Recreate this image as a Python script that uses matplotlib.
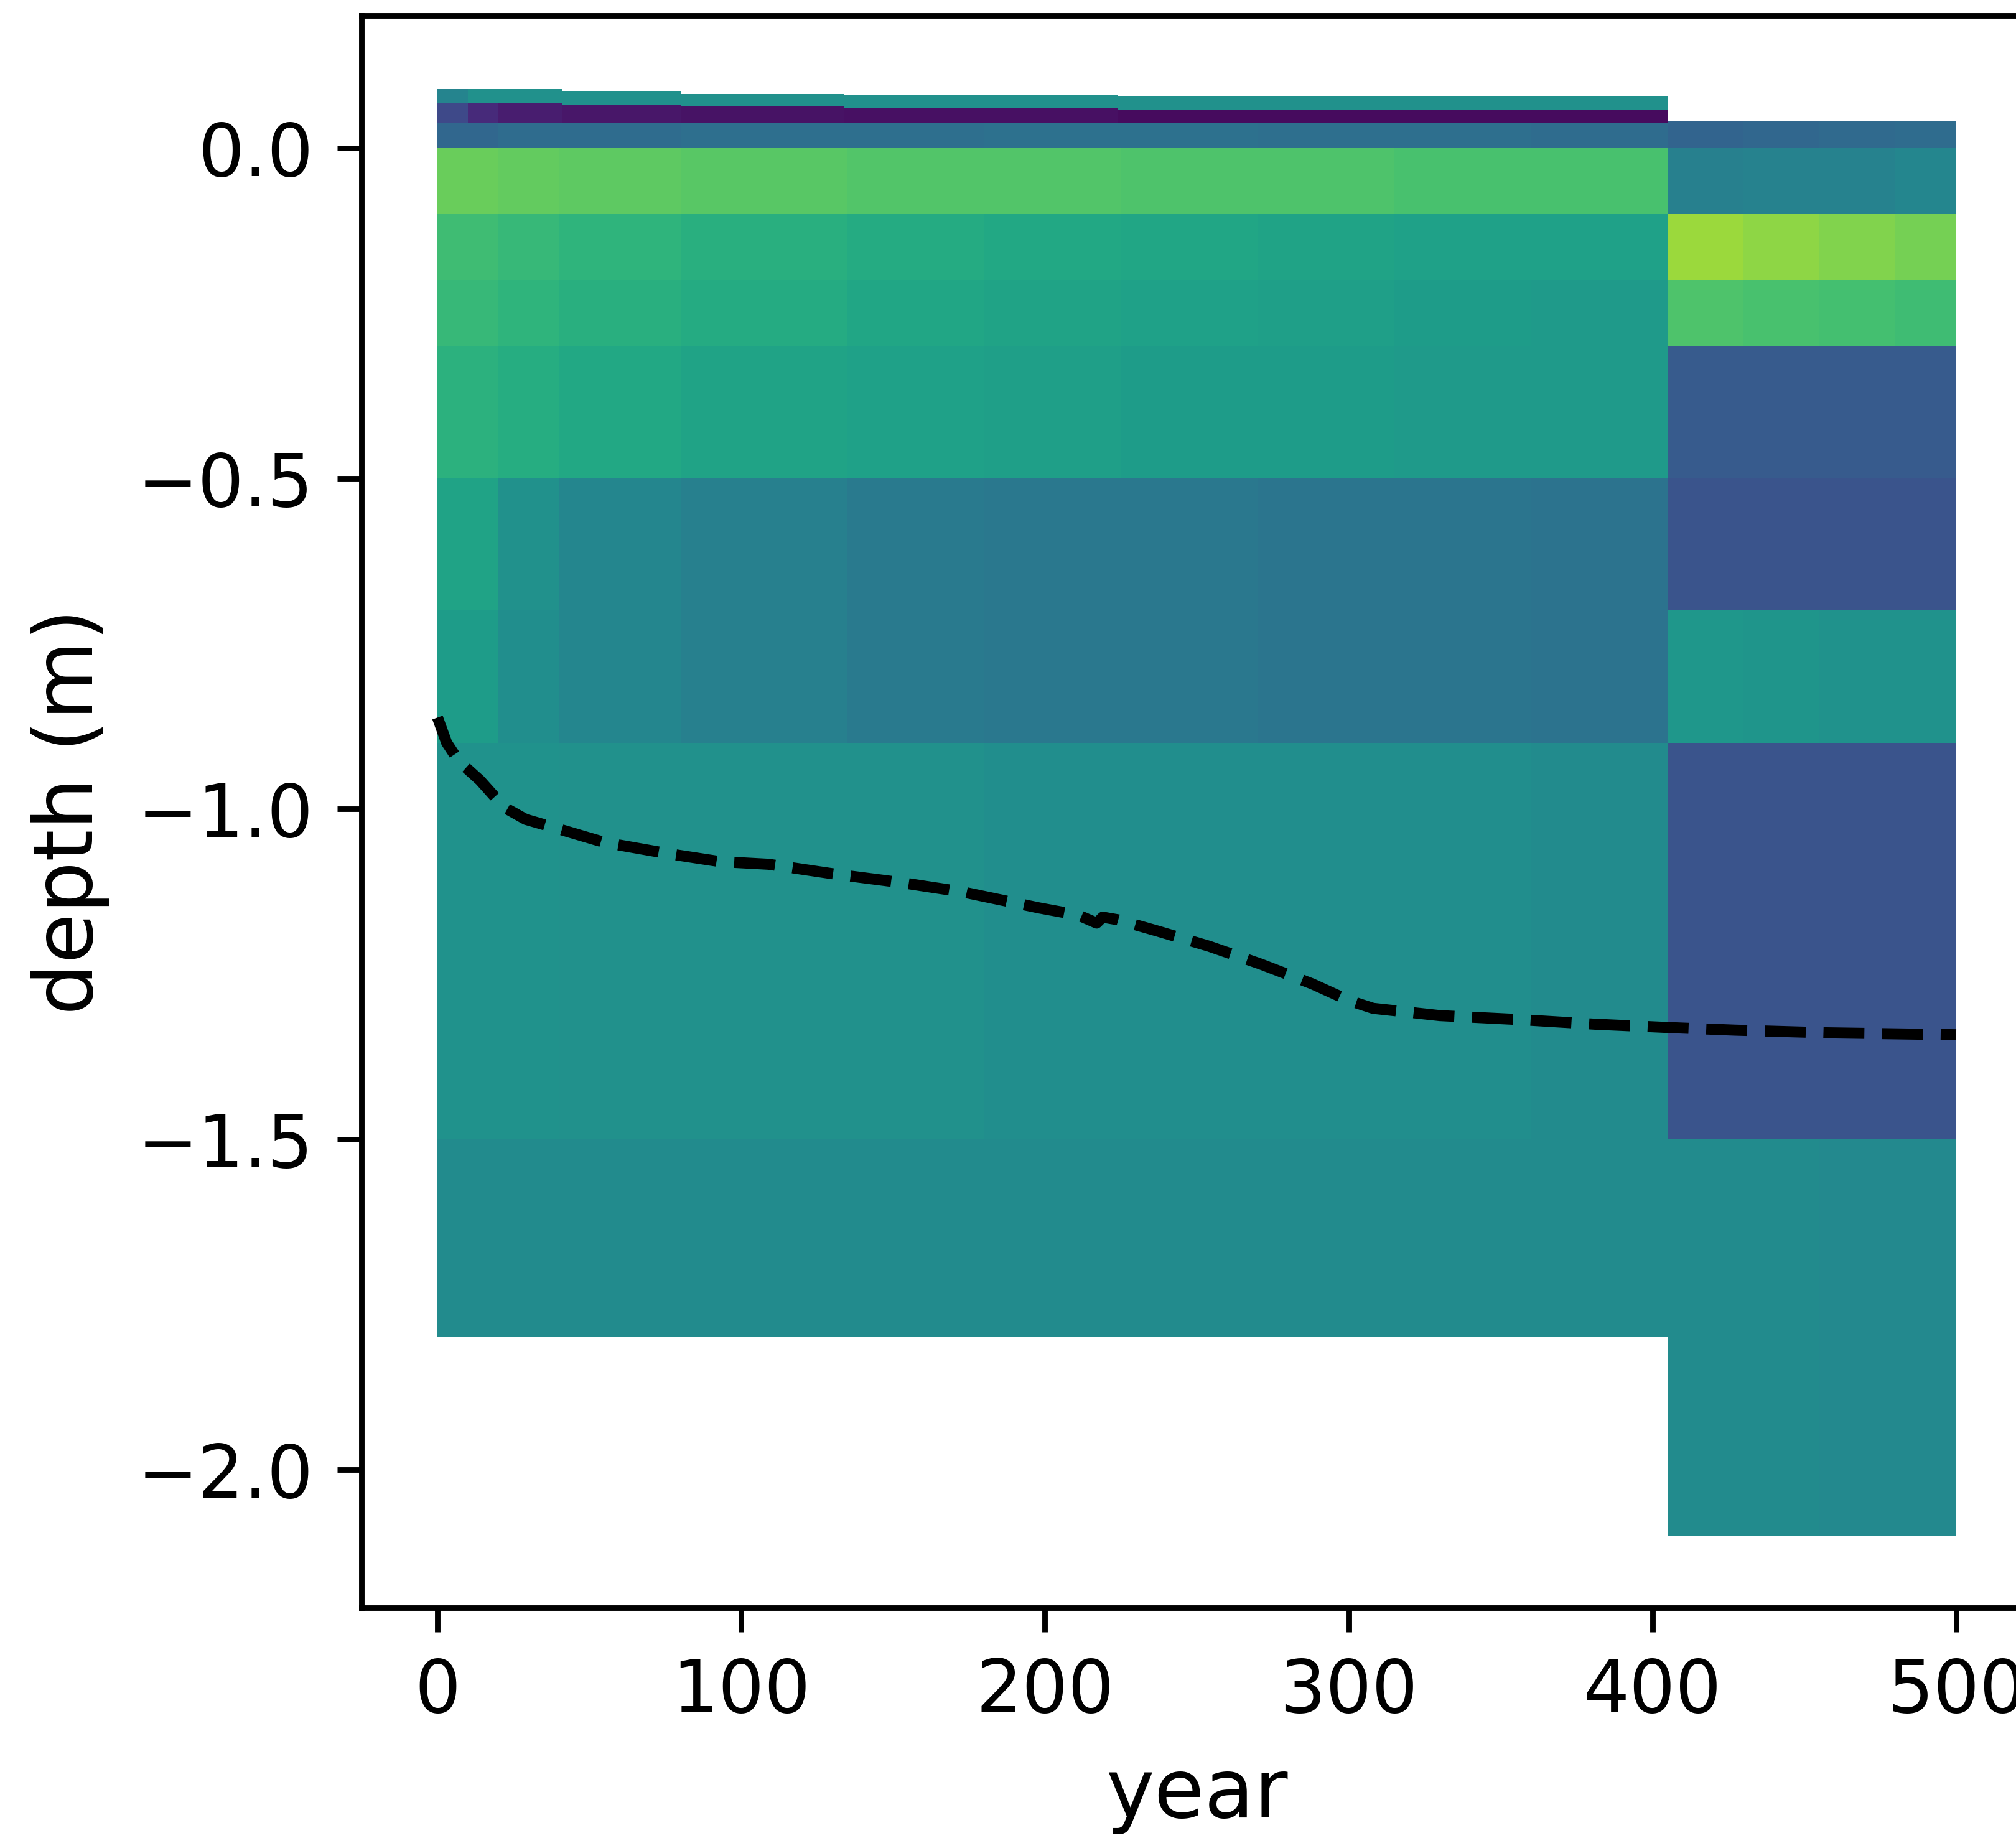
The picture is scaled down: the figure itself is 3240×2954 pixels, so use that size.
import numpy as np
import matplotlib
matplotlib.use("Agg")
import matplotlib.pyplot as plt

# ---- data ----
# first run (0-405 yr): column edges (years) and layer edges (m)
left_years = [0, 20, 40, 80, 135, 180, 225, 270, 315, 360, 405]
left_depths = [0.038, 0.0, -0.1, -0.2, -0.3, -0.5, -0.7, -0.9, -1.5, -1.8]
# layer values (viridis scale 0..1), top layer first
L0 = [0.33, 0.35, 0.35, 0.36, 0.36, 0.37, 0.37, 0.36, 0.36, 0.35]
L1 = [0.77, 0.76, 0.75, 0.74, 0.73, 0.73, 0.72, 0.72, 0.71, 0.71]
L2 = [0.69, 0.67, 0.65, 0.63, 0.61, 0.60, 0.59, 0.58, 0.57, 0.57]
L3 = [0.67, 0.65, 0.63, 0.61, 0.59, 0.58, 0.57, 0.56, 0.55, 0.54]
L4 = [0.64, 0.62, 0.60, 0.58, 0.57, 0.56, 0.55, 0.55, 0.54, 0.54]
L5 = [0.58, 0.50, 0.46, 0.43, 0.41, 0.40, 0.40, 0.39, 0.39, 0.38]
L6 = [0.55, 0.49, 0.46, 0.43, 0.41, 0.40, 0.40, 0.39, 0.39, 0.38]
L7 = [0.51, 0.51, 0.50, 0.50, 0.50, 0.49, 0.49, 0.49, 0.49, 0.48]
L8 = [0.48, 0.48, 0.48, 0.48, 0.48, 0.48, 0.48, 0.48, 0.48, 0.48]

# surface litter layers of first run (step wise)
surf_years = [0, 10, 20, 41, 80, 134, 224, 310, 405]
surf_top = [0.089, 0.089, 0.089, 0.085, 0.082, 0.080, 0.078, 0.078]
surf_mid = [0.068, 0.068, 0.068, 0.065, 0.063, 0.060, 0.058, 0.058]
surf_base = [0.038, 0.038, 0.038, 0.038, 0.038, 0.038, 0.038, 0.038]
purple_vals = [0.22, 0.12, 0.08, 0.06, 0.05, 0.04, 0.03, 0.03]
teal_vals = [0.45, 0.50, 0.50, 0.50, 0.50, 0.50, 0.50, 0.50]

# second run (405-500 yr)
right_years = [405, 430, 455, 480, 500]
right_depths = [0.04, 0.0, -0.1, -0.2, -0.3, -0.5, -0.7, -0.9, -1.5, -2.1]
R0 = [0.32, 0.33, 0.34, 0.35]
R1 = [0.43, 0.44, 0.44, 0.46]
R2 = [0.85, 0.83, 0.81, 0.79]
R3 = [0.72, 0.71, 0.70, 0.69]
R4 = [0.285, 0.285, 0.285, 0.285]
R5 = [0.26, 0.26, 0.26, 0.26]
R6 = [0.53, 0.52, 0.51, 0.51]
R7 = [0.26, 0.26, 0.26, 0.26]
R8 = [0.48, 0.48, 0.47, 0.47]

# dashed line
line_year = [0, 3, 7, 14, 22, 29, 38, 55, 76, 93, 109, 131, 153, 173, 198,
             211, 217, 219, 224, 237, 254, 271, 288, 300, 308, 330, 356,
             381, 405, 427, 457, 500]
line_depth = [-0.862, -0.90, -0.928, -0.957, -0.998, -1.016, -1.028, -1.051,
              -1.068, -1.080, -1.084, -1.099, -1.112, -1.126, -1.150, -1.161,
              -1.173, -1.164, -1.168, -1.185, -1.208, -1.235, -1.265, -1.290,
              -1.302, -1.313, -1.319, -1.326, -1.331, -1.335, -1.339, -1.342]

cmap = plt.get_cmap("viridis")
norm = plt.Normalize(0, 1)

fig = plt.figure(figsize=(3241 / 800, 2954 / 800), dpi=800)
ax = fig.add_axes([0.1793, 0.1253, 0.8284, 0.8663])

C_left = np.array([L0, L1, L2, L3, L4, L5, L6, L7, L8])
ax.pcolormesh(left_years, left_depths, C_left, cmap=cmap, norm=norm)

C_right = np.array([R0, R1, R2, R3, R4, R5, R6, R7, R8])
ax.pcolormesh(right_years, right_depths, C_right, cmap=cmap, norm=norm)

sx = np.array(surf_years[:-1])
sw = np.diff(surf_years)
ax.bar(sx, np.array(surf_mid) - np.array(surf_base), width=sw, bottom=surf_base,
       align="edge", color=cmap(norm(purple_vals)), linewidth=0)
ax.bar(sx, np.array(surf_top) - np.array(surf_mid), width=sw, bottom=surf_mid,
       align="edge", color=cmap(norm(teal_vals)), linewidth=0)

ax.plot(line_year, line_depth, "k--", lw=1.6)

ax.set_xlim(-25, 525)
ax.set_ylim(-2.209, 0.2005)
ax.set_xticks([0, 100, 200, 300, 400, 500])
ax.set_yticks([0.0, -0.5, -1.0, -1.5, -2.0])
ax.tick_params(labelsize=10.5)
ax.set_xlabel("year", fontsize=11.8)
ax.set_ylabel("depth (m)", fontsize=11.8)

fig.savefig("out.png", dpi=800)
